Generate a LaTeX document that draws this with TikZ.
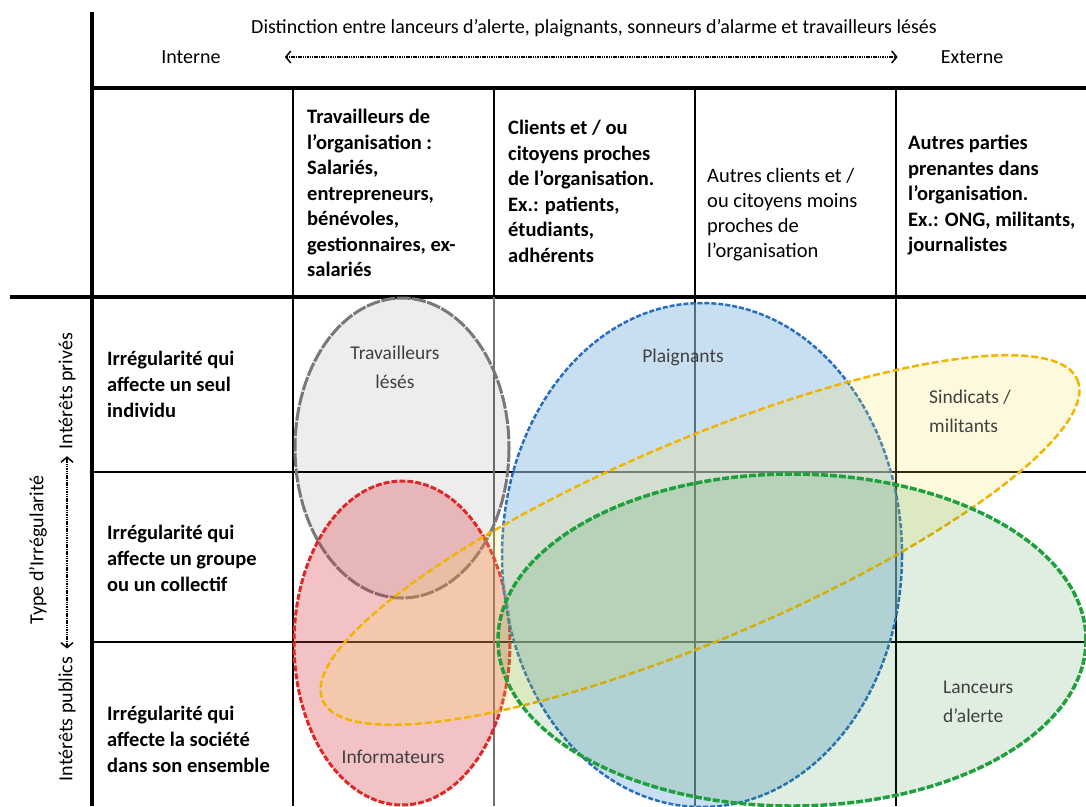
\documentclass[tikz,border=0pt]{standalone}
\usepackage{fontspec}
\setmainfont{Carlito}
\usetikzlibrary{arrows.meta}

\definecolor{leseline}{RGB}{120,120,120}
\definecolor{infofill}{RGB}{218,55,65}
\definecolor{infoline}{RGB}{222,40,40}
\definecolor{plaifill}{RGB}{156,195,230}
\definecolor{plailine}{RGB}{40,110,190}
\definecolor{sindfill}{RGB}{245,225,80}
\definecolor{sindline}{RGB}{242,180,0}
\definecolor{lancfill}{RGB}{31,140,47}
\definecolor{lancline}{RGB}{30,160,60}

\tikzset{
  gridline/.style={line width=2pt},
  heavyline/.style={line width=4pt},
  cell/.style={anchor=north west, align=left, font=\fontsize{20.5}{25.5}\selectfont\bfseries},
  rowlab/.style={anchor=north west, align=left, font=\fontsize{20.5}{26}\selectfont\bfseries},
  blob/.style={font=\fontsize{19.5}{29}\selectfont, text=black!75},
  axisarrow/.style={{Straight Barb[length=5pt,width=12pt,line width=1.5pt]}-{Straight Barb[length=5pt,width=12pt,line width=1.5pt]}, line width=1.4pt, dash pattern=on 1.5pt off 0.8pt},
  lese/.style={fill=black, fill opacity=0.07, draw=leseline, line width=3pt, dash pattern=on 14pt off 1.5pt},
  info/.style={fill=infofill, fill opacity=0.3, draw=infoline, line width=3pt, dash pattern=on 6pt off 2pt},
  plai/.style={fill=plaifill, fill opacity=0.55, draw=plailine, line width=2.5pt, dash pattern=on 5pt off 2pt},
  sind/.style={fill=sindfill, fill opacity=0.2, draw=sindline, line width=2.5pt, dash pattern=on 7pt off 3pt},
  lanc/.style={fill=lancfill, fill opacity=0.14, draw=lancline, line width=3.5pt, dash pattern=on 7pt off 2pt},
}

\begin{document}
\begin{tikzpicture}[x=1pt,y=-1pt,inner sep=0pt]
\fill [white] (0,0) rectangle (1086,806);
\useasboundingbox (0,0) rectangle (1086,806);

% grid of the table
\draw [heavyline] (92,12) -- (92,806);
\draw [line width=3.5pt] (92,88) -- (1086,88);
\draw [heavyline] (10,297) -- (1086,297);
\foreach \y in {472,642} \draw [gridline] (92,\y) -- (1086,\y);
\foreach \x in {293,695,896} \draw [gridline] (\x,88) -- (\x,806);
\draw [gridline] (494,88) -- (494,297);
\draw [gridline, black!55] (494,297) -- (494,806);

% the five groups
\draw [lese] (402,448) ellipse [x radius=107, y radius=150];
\draw [info] (402,643) ellipse [x radius=108, y radius=162];
\draw [plai] (702,555) ellipse [x radius=200, y radius=252];
\draw [sind, rotate around={23:(700,540)}] (700,540) ellipse [x radius=410, y radius=100];
\draw [lanc] (792,640) ellipse [x radius=294, y radius=166];

% header
\draw node [font=\fontsize{20}{24}\selectfont] at (594,28) (titre) {Distinction entre lanceurs d’alerte, plaignants, sonneurs d’alarme et travailleurs lésés};
\draw node [font=\fontsize{20}{24}\selectfont] at (191,57) (interne) {Interne};
\draw node [font=\fontsize{20}{24}\selectfont] at (972,57) (externe) {Externe};
\draw [axisarrow, shorten <=64pt, shorten >=43pt] (interne.east) -- (externe.west);

% left axis
\draw node [font=\fontsize{20}{24}\selectfont, rotate=90] at (67,391) (prive) {Intérêts privés};
\draw node [font=\fontsize{20}{24}\selectfont, rotate=90] at (67,719) (public) {Intérêts publics};
\draw node [font=\fontsize{20}{24}\selectfont, rotate=90] at (38,550) (type) {Type d’Irrégularité};
\draw [axisarrow, shorten <=8pt, shorten >=7pt] (public.east) -- (prive.west);

% column heads
\draw node [cell] at (307,109) (travail) {Travailleurs de\\l’organisation :\\Salariés,\\entrepreneurs,\\bénévoles,\\gestionnaires, ex-\\salariés};
\draw node [cell] at (508,120) (clients) {Clients et / ou\\citoyens proches\\de l’organisation.\\Ex.: patients,\\étudiants,\\adhérents};
\draw node [cell, font=\fontsize{20.5}{25}\selectfont] at (707,168) (autres) {Autres clients et /\\ou citoyens moins\\proches de\\l’organisation};
\draw node [cell] at (908,135) (parties) {Autres parties\\prenantes dans\\l’organisation.\\Ex.: ONG, militants,\\journalistes};

% row heads
\draw node [rowlab] at (107,351) (seul) {Irrégularité qui\\affecte un seul\\individu};
\draw node [rowlab] at (107,525) (groupe) {Irrégularité qui\\affecte un groupe\\ou un collectif};
\draw node [rowlab] at (107,706) (societe) {Irrégularité qui\\affecte la société\\dans son ensemble};

% group names
\draw node [blob, align=center] at (395,367) (leses) {Travailleurs\\lésés};
\draw node [blob] at (683,357) (plaignants) {Plaignants};
\draw node [blob, align=left, anchor=west] at (929,411) (sindicats) {Sindicats /\\militants};
\draw node [blob, align=left, anchor=west] at (943,702) (lanceurs) {Lanceurs\\d’alerte};
\draw node [blob] at (393,757) (informateurs) {Informateurs};
\end{tikzpicture}
\end{document}
